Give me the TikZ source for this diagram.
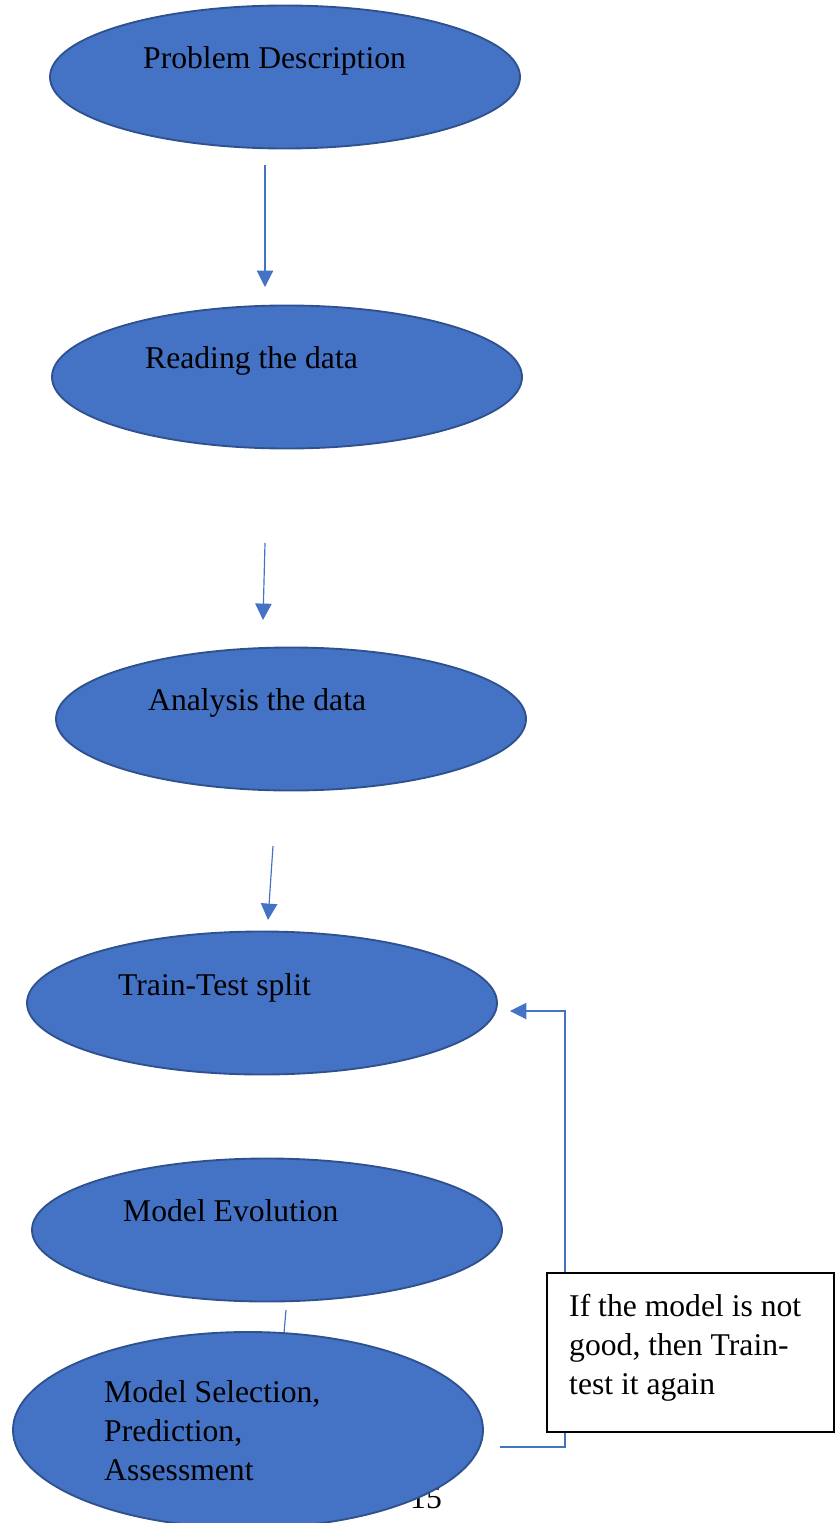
\documentclass[tikz,border=0pt]{standalone}
\usepackage{fontspec}
\setmainfont{Liberation Serif}
\usepackage{tikz}
\usetikzlibrary{shapes.geometric,arrows.meta}
\definecolor{stagefill}{HTML}{4472C4}
\definecolor{stageedge}{HTML}{2F528F}
\definecolor{flowline}{HTML}{4472C4}
\tikzset{stage/.style={ellipse,draw=stageedge,fill=stagefill,line width=1.6pt,
                       inner sep=0pt,minimum width=14.1cm,minimum height=4.29cm}}
\tikzset{stagetext/.style={inner sep=0pt,font=\fontsize{27}{33}\selectfont,
                           align=left,anchor=base west}}
\tikzset{flow/.style={draw=flowline,line width=1pt,
                      -{Triangle[width=14pt,length=14pt]}}}
\tikzset{link/.style={draw=flowline,line width=1pt}}
\tikzset{notebox/.style={draw=black,fill=white,line width=1.5pt,
                         minimum width=8.61cm,minimum height=4.77cm}}

\begin{document}
\begin{tikzpicture}[x=0.03cm,y=-0.03cm]
    \useasboundingbox (0,0) rectangle (834,1523);
    % Draw the stages
    \foreach \nm/\cx/\cy/\tx/\ty/\txt in {problem/285/77/143/69/Problem Description,
                                           reading/287/377/145/368/Reading the data,
                                           analysis/291/719/148/710/Analysis the data,
                                           split/262/1003/118/995/Train-Test split,
                                           evolution/267/1230/123/1221/Model Evolution}{%
          \node[stage] (\nm) at (\cx,\cy) {};
          \node[stagetext] (\nm-text) at (\tx,\ty) {\txt};
        }
    % Arrows between the stages
    \foreach \sx/\sy/\ex/\ey [count=\i] in {265/165/265/287,265/543/263/620,273/846/268/920}{%
          \coordinate (from\i) at (\sx,\sy);
          \coordinate (to\i) at (\ex,\ey);
          \draw[flow] (from\i) -- (to\i);
        }
    % Short link into the last stage
    \coordinate (from4) at (286,1310);
    \coordinate (to4) at (283,1345);
    \draw[link] (from4) -- (to4);
    % Page number, partly hidden
    \node[stagetext] (pagenum) at (410,1508) {15};
    % Last stage (base is the last line)
    \node[stage,minimum height=5.88cm] (selection) at (248,1430) {};
    \node[stagetext] (selection-text) at (104,1480) {Model Selection,\\Prediction,\\Assessment};
    % Feedback back to the split
    \coordinate (fbstart) at (500,1447);
    \coordinate (fbturn) at (565,1447);
    \coordinate (fbend) at (510,1011);
    \draw[flow] (fbstart) -- (fbturn) |- (fbend);
    % Note
    \node[notebox] (note) at (690.5,1352.5) {};
    \node[stagetext] (note-text) at (569,1394) {If the model is not\\good, then Train-\\test it again};
\end{tikzpicture}
\end{document}
